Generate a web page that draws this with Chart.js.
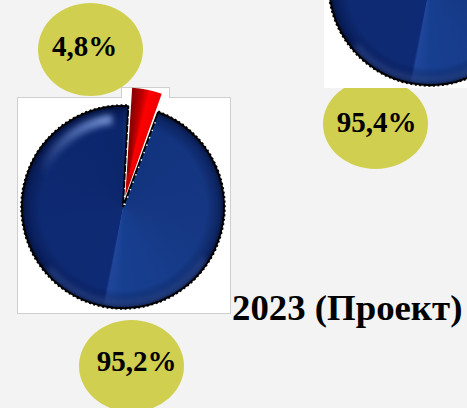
<!DOCTYPE html>
<html><head><meta charset="utf-8">
<script src="https://cdn.jsdelivr.net/npm/chart.js@4"></script>
<style>
html,body{margin:0;padding:0;width:467px;height:408px;overflow:hidden;background:#f3f3f3}
#stage{position:relative;width:467px;height:408px;overflow:hidden;font-family:"Liberation Serif",serif;font-weight:bold;color:#000}
.oval{position:absolute;background:#d0cf50;border-radius:50%;display:flex;align-items:center;justify-content:center;font-size:29px;line-height:1;box-sizing:border-box}
.box{position:absolute;background:#fff;box-sizing:border-box}
canvas{position:absolute}
#title{position:absolute;left:232px;top:288px;font-size:36.8px;line-height:40px;white-space:nowrap}
</style></head>
<body><div id="stage">
<div class="oval" id="o2" style="left:323px;top:79px;width:105px;height:90px;padding-bottom:4px;padding-left:2px"></div>
<div class="box" style="left:324px;top:0;width:143px;height:88px"></div>
<div class="oval" id="o1" style="left:38px;top:3px;width:105px;height:93px;padding-right:12px;padding-bottom:6px"></div>
<div class="box" style="left:17px;top:97px;width:214px;height:217px;border:1px solid #cfcfcf"></div>
<div class="box" style="left:121px;top:87px;width:49px;height:11px;border:1px solid #cfcfcf;border-bottom:none"></div>
<div class="oval" id="o3" style="left:79px;top:320px;width:105px;height:92px;padding-left:10px;padding-bottom:10px"></div>
<div id="title"></div>
<canvas id="c2" width="467" height="408" style="left:297px;top:-223px;width:467px;height:408px"></canvas>
<canvas id="c1" width="467" height="408" style="left:-10px;top:0;width:467px;height:408px"></canvas>
</div>
<script>
const categories = ["Прочее", "Основное"];
const values2023 = [4.8, 95.2];
const valuesPrev = [4.6, 95.4];
const labelTop = "4,8%";
const labelRight = "95,4%";
const labelBottom = "95,2%";
const titleText = "2023 (Проект)";

document.getElementById('o1').textContent = labelTop;
document.getElementById('o2').textContent = labelRight;
document.getElementById('o3').textContent = labelBottom;
document.getElementById('title').textContent = titleText;

function centre(chart){
  const a = chart.chartArea;
  return a ? {x:(a.left+a.right)/2, y:(a.top+a.bottom)/2} : null;
}
function fill(context){
  const c = centre(context.chart);
  const isRed = context.dataIndex === 0;
  if(!c) return isRed ? '#e00000' : '#12307a';
  const ctx = context.chart.ctx;
  const start = -Math.PI/2 + 3*Math.PI/180;
  if(isRed){
    const g = ctx.createConicGradient(start, c.x + 4, c.y - 22);
    g.addColorStop(0, '#900000');
    g.addColorStop(0.018, '#c00000');
    g.addColorStop(0.03, '#ff0000');
    g.addColorStop(0.05, '#f00000');
    g.addColorStop(1, '#900000');
    return g;
  }
  const g = ctx.createConicGradient(-Math.PI/2, c.x, c.y);
  g.addColorStop(0, '#0c2a70');
  g.addColorStop(0.06, '#12337e');
  g.addColorStop(0.30, '#163884');
  g.addColorStop(0.50, '#173f90');
  g.addColorStop(0.528, '#1f469a');
  g.addColorStop(0.533, '#0e2a74');
  g.addColorStop(0.70, '#0e2a72');
  g.addColorStop(1, '#0c266c');
  return g;
}
const shade = {
  id:'shade',
  afterDatasetDraw(chart){
    const meta = chart.getDatasetMeta(0);
    const blue = meta.data[1];
    if(!blue) return;
    const ctx = chart.ctx, p = blue.getProps(['x','y','startAngle','endAngle','outerRadius'], true);
    const r = p.outerRadius;
    ctx.save();
    ctx.beginPath();
    ctx.moveTo(p.x,p.y);
    ctx.arc(p.x,p.y,r-1,p.startAngle,p.endAngle);
    ctx.closePath();
    ctx.clip();
    const rg = ctx.createRadialGradient(p.x,p.y,r*0.82,p.x,p.y,r);
    rg.addColorStop(0,'rgba(0,10,50,0)');
    rg.addColorStop(0.6,'rgba(0,10,50,0.3)');
    rg.addColorStop(0.85,'rgba(0,8,40,0.5)');
    rg.addColorStop(1,'rgba(0,0,20,0.85)');
    ctx.fillStyle = rg;
    ctx.fillRect(p.x-r,p.y-r,2*r,2*r);
    ctx.filter = 'blur(3px)';
    const hl = ctx.createLinearGradient(p.x-r*0.8,p.y-r*0.3,p.x,p.y-r);
    hl.addColorStop(0,'rgba(120,150,220,0)');
    hl.addColorStop(0.5,'rgba(120,150,220,0.6)');
    hl.addColorStop(1,'rgba(150,180,240,1)');
    ctx.strokeStyle = hl;
    ctx.lineWidth = 9;
    ctx.beginPath();
    ctx.arc(p.x,p.y,r*0.875,Math.PI*1.10,Math.PI*1.46);
    ctx.stroke();
    ctx.strokeStyle = 'rgba(60,90,160,0.8)';
    ctx.lineWidth = 4;
    ctx.beginPath();
    ctx.arc(p.x,p.y,r*0.955,Math.PI*0.18,Math.PI*0.78);
    ctx.stroke();
    ctx.restore();
    // stippled black rim on the blue slice
    ctx.save();
    ctx.strokeStyle = '#000';
    ctx.lineWidth = 2.5;
    ctx.setLineDash([2,2.5]);
    ctx.beginPath();
    ctx.arc(p.x,p.y,r+0.5,p.startAngle,p.endAngle);
    ctx.stroke();
    ctx.restore();
    // dotted white lines along the gap beside the red slice
    ctx.save();
    ctx.strokeStyle = '#fff';
    ctx.lineWidth = 1.4;
    ctx.setLineDash([1.4,6.5]);
    [[p.startAngle,0.02,0.9],[p.endAngle,0.02,0.98]].forEach(([ang,a,b])=>{
      ctx.beginPath();
      ctx.moveTo(p.x+Math.cos(ang)*(r*a)+1,p.y+Math.sin(ang)*(r*a));
      ctx.lineTo(p.x+Math.cos(ang)*(r*b)+1,p.y+Math.sin(ang)*(r*b));
      ctx.stroke();
    });
    ctx.restore();
  }
};
function pie(id, values){
  return new Chart(document.getElementById(id),{
    type:'pie',
    data:{labels:categories,datasets:[{data:values,backgroundColor:fill,borderColor:['rgba(0,0,0,0)','#000'],borderWidth:2,offset:[44,0]}]},
    options:{
      responsive:false,animation:false,rotation:3,
      layout:{padding:{left:9,right:210,top:83,bottom:77}},
      plugins:{legend:{display:false},tooltip:{enabled:false},title:{display:false}}
    },
    plugins:[shade]
  });
}
pie('c2', valuesPrev);
pie('c1', values2023);
</script>
</body></html>
